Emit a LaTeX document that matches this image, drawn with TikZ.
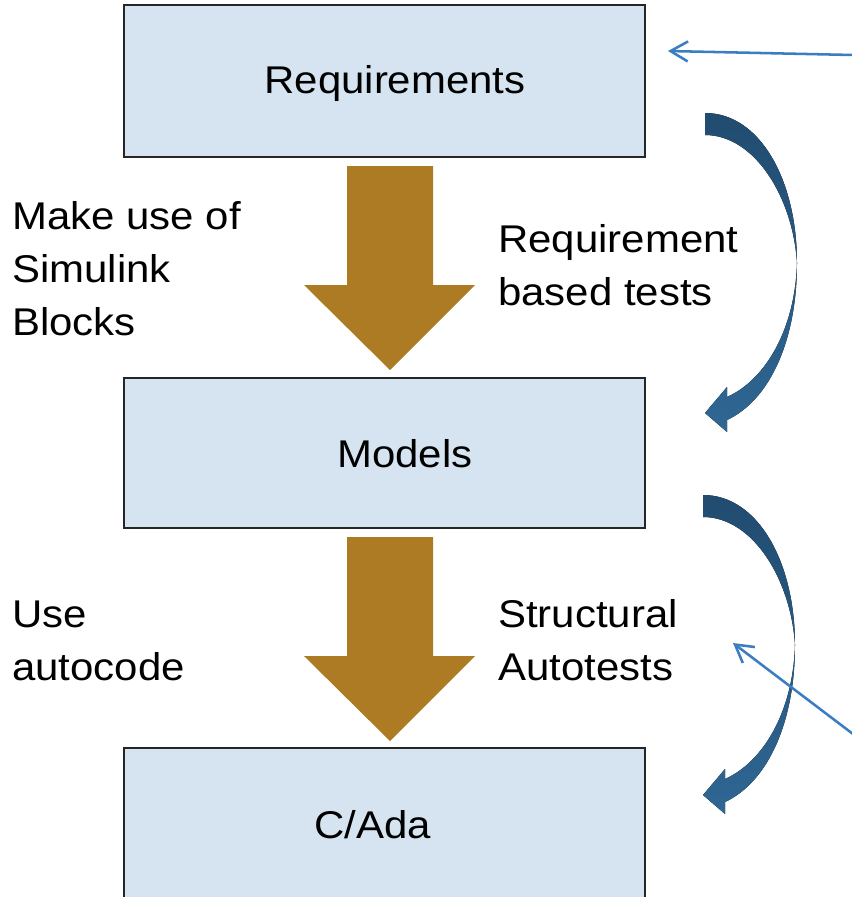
\documentclass[tikz,border=0pt]{standalone}
\usepackage{fontspec}
\setmainfont[FakeStretch=1.085]{Liberation Sans}
\usetikzlibrary{arrows.meta}
\definecolor{boxfill}{HTML}{D6E4F1}
\definecolor{boxline}{HTML}{262626}
\definecolor{gold}{HTML}{AD7B24}
\definecolor{cdark}{HTML}{214C70}
\definecolor{clight}{HTML}{2F6693}
\definecolor{thinblue}{HTML}{3A7DC2}
\tikzset{
  curvy/.pic={
    \fill[top color=cdark, bottom color=clight]
      (0,0) .. controls (55,0) and (92,67) .. (92,150)
      .. controls (92,227) and (65,287) .. (22,307)
      -- (22,319) -- (0,300) -- (22,274) -- (22,284)
      .. controls (60,267) and (90,217) .. (92,150)
      .. controls (88,85) and (50,22) .. (0,22) -- cycle;
  }
}
\begin{document}
\begin{tikzpicture}[x=0.75pt,y=-0.75pt,
  box/.style={draw=boxline, line width=1.4pt, fill=boxfill, minimum width=390.75pt, inner sep=0pt},
  lbl/.style={font=\fontsize{29pt}{39.5pt}\selectfont, inner sep=0pt, align=left, anchor=base west},
  boxtext/.style={font=\fontsize{29pt}{39.5pt}\selectfont, inner sep=0pt, anchor=base},
  goldarrow/.style={fill=gold},
  thinarrow/.style={draw=thinblue, line width=1.9pt, -{Straight Barb[length=13pt,width=15pt,line width=1.9pt]}}
]
\useasboundingbox (0,0) rectangle (851,897);
% boxes
\node[box, minimum height=114pt] (req) at (384.5,81) {};
\node[box, minimum height=112.5pt] (mod) at (384.5,453) {};
\node[box, minimum height=121.5pt] (code) at (384.5,829) {};
\node[boxtext] (reqt) at (395,93) {Requirements};
\node[boxtext] (modt) at (405,467) {Models};
\node[boxtext] (codet) at (373,838) {C/Ada};
% gold arrows
\fill[goldarrow] (347,166) -- (433,166) -- (433,285) -- (475,285) -- (390,370) -- (304,285) -- (347,285) -- cycle;
\fill[goldarrow] (347,537) -- (433,537) -- (433,656) -- (475,656) -- (390,741) -- (304,656) -- (347,656) -- cycle;
% curved arrows
\pic at (705,113) {curvy};
\pic at (703,495) {curvy};
% thin arrows
\coordinate (a1s) at (853,55);
\coordinate (a1e) at (668,51);
\draw[thinarrow] (a1s) -- (a1e);
\coordinate (a2s) at (853,734);
\coordinate (a2e) at (733,643);
\draw[thinarrow] (a2s) -- (a2e);
% labels (anchored at the baseline of the last line)
\node[lbl] (t1) at (12,335) {Make use of\\Simulink\\Blocks};
\node[lbl] (t2) at (498,305) {Requirement\\based tests};
\node[lbl] (t3) at (12,680) {Use\\autocode};
\node[lbl] (t4) at (498,680) {Structural\\Autotests};
\end{tikzpicture}
\end{document}
